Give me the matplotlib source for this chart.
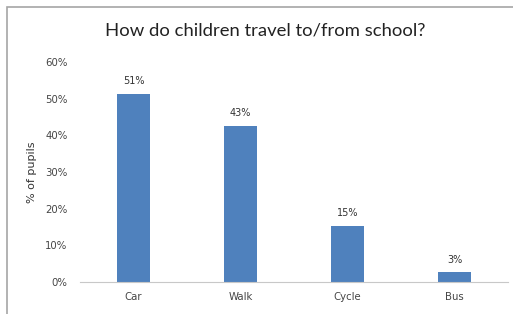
import matplotlib.pyplot as plt
from matplotlib.patches import Rectangle
from matplotlib.ticker import FuncFormatter

modes = ['Car', 'Walk', 'Cycle', 'Bus']
pupils_pct = [51.4, 42.6, 15.4, 2.6]
bar_labels = ['51%', '43%', '15%', '3%']
y_ticks = [0, 10, 20, 30, 40, 50, 60]

fig = plt.figure(figsize=(5.13, 3.14), dpi=100)
ax = fig.add_axes([80 / 513, 1 - 282 / 314, 428 / 513, 220 / 314])

# outer chart border (only top/left visible in the reference)
fig.patches.append(Rectangle((7 / 513, -0.1), 1.2, 1 - 7 / 314 + 0.1,
                             transform=fig.transFigure, fill=False,
                             edgecolor='#a6a6a6', linewidth=1.2))

bars = ax.bar(modes, pupils_pct, width=0.31, color='#4f81bd')
for b, lab in zip(bars, bar_labels):
    ax.text(b.get_x() + b.get_width() / 2, b.get_height() + 2, lab,
            ha='center', va='bottom', fontsize=7, color='#333333')

ax.set_ylim(0, 60)
ax.set_xlim(-0.5, 3.5)
ax.set_yticks(y_ticks)
ax.yaxis.set_major_formatter(FuncFormatter(lambda v, p: f'{v:.0f}%'))
ax.tick_params(axis='both', length=0, labelsize=7.3, colors='#444444')
ax.tick_params(axis='y', pad=9)
ax.tick_params(axis='x', pad=7)
for s in ['top', 'right', 'left']:
    ax.spines[s].set_visible(False)
ax.spines['bottom'].set_color('#c8c8c8')
ax.set_ylabel('% of pupils', fontsize=8, color='#333333', labelpad=6)

fig.text(0.517, 1 - 30 / 314, 'How do children travel to/from school?',
         ha='center', va='center', fontsize=13.3, family='Lato', color='#222222')

fig.savefig('out.png', dpi=100)
